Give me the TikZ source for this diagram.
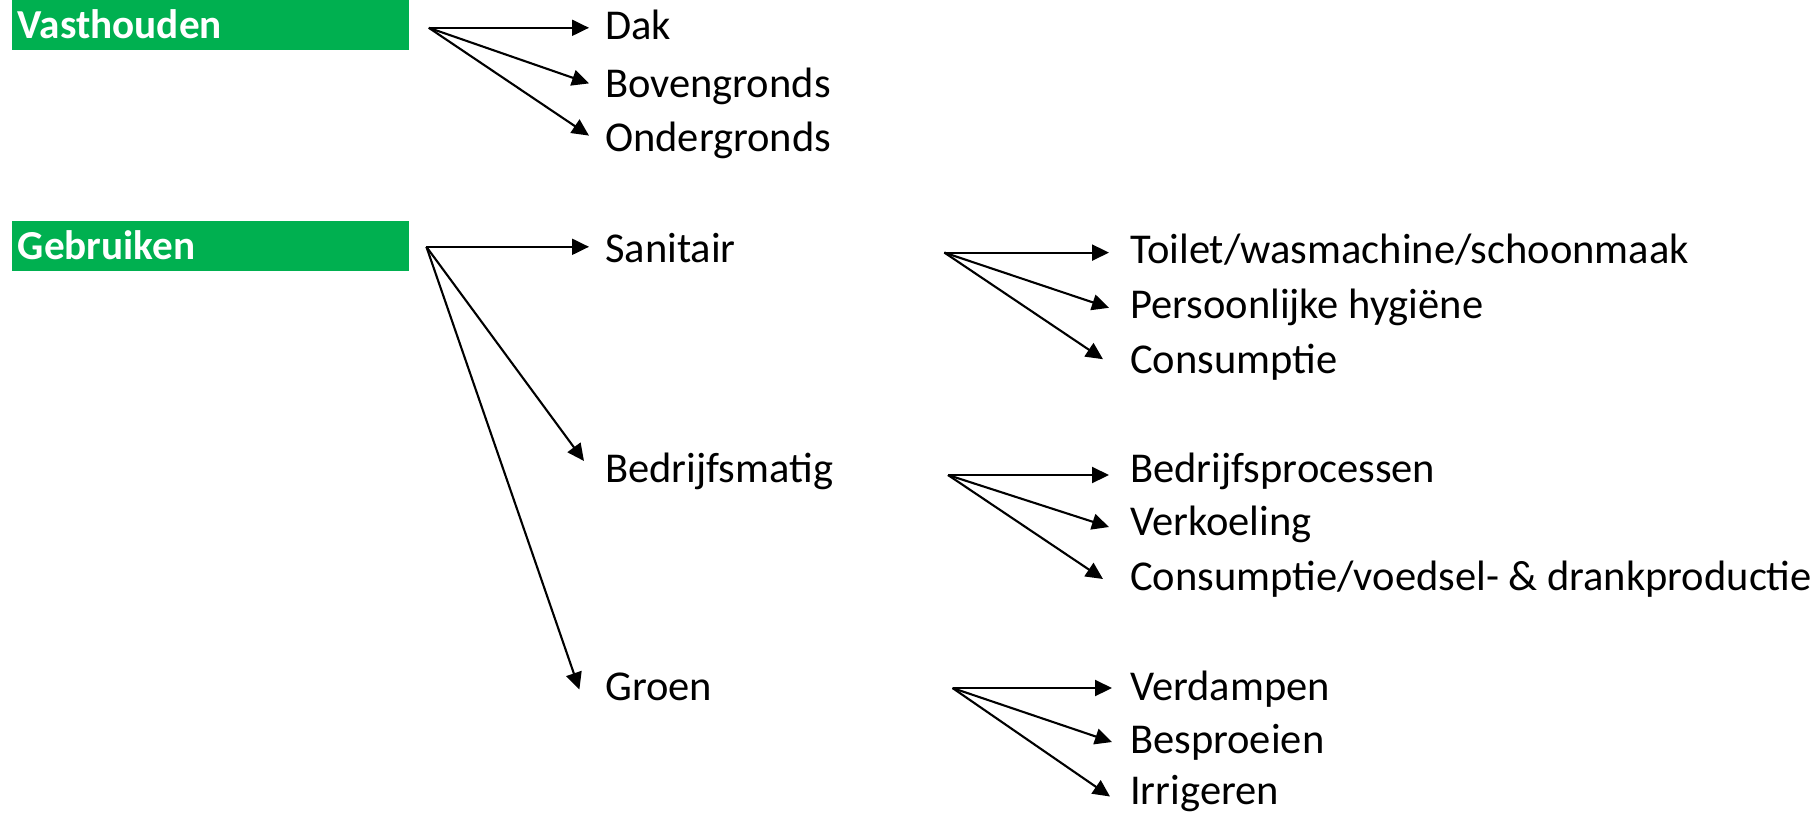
\documentclass[tikz,border=0pt]{standalone}
\usepackage{fontspec}
\setmainfont{Carlito}
\usetikzlibrary{arrows.meta}
\definecolor{xlgreen}{HTML}{00B050}
\begin{document}
\begin{tikzpicture}[x=1pt,y=-1pt,
  every node/.style={font=\fontsize{42.5}{50}\selectfont},
  gbox/.style={fill=xlgreen, anchor=north west, minimum height=50pt, text width=385pt,
    inner xsep=6pt, inner ysep=0pt, align=left, text=white,
    font=\fontsize{41.2}{49}\selectfont\bfseries, text height=31pt, text depth=5pt},
  lbl/.style={anchor=west, inner sep=0pt, text height=30pt, text depth=8pt},
  arr/.style={line width=2.1pt, -{Triangle[length=17pt,width=16pt]}}
]
\useasboundingbox (0,0) rectangle (1817,815);

% green headers
\node[gbox] (vast) at (11.6,0) {Vasthouden};
\node[gbox] (gebr) at (11.6,221) {Gebruiken};

% level 1 labels
\node[lbl] (dak) at (605,28.5) {Dak};
\node[lbl] (bov) at (605,86.4) {Bovengronds};
\node[lbl] (ond) at (605,140.9) {Ondergronds};

\node[lbl] (san) at (605,251) {Sanitair};
\node[lbl] (bed) at (605,471) {Bedrijfsmatig};
\node[lbl] (gro) at (605,689) {Groen};

% level 2 labels
\node[lbl] (toi) at (1130,252) {Toilet/wasmachine/schoonmaak};
\node[lbl] (per) at (1130,307.8) {Persoonlijke hygiëne};
\node[lbl] (con) at (1130,362.2) {Consumptie};

\node[lbl] (bpr) at (1130,471) {Bedrijfsprocessen};
\node[lbl] (ver) at (1130,524.5) {Verkoeling};
\node[lbl] (cvd) at (1130,579) {Consumptie/voedsel- \& drankproductie};

\node[lbl] (vdp) at (1130,689) {Verdampen};
\node[lbl] (bes) at (1130,742) {Besproeien};
\node[lbl] (irr) at (1130,793.5) {Irrigeren};

% fan origins
\coordinate (vo) at (428.8,27.8);
\coordinate (go) at (426.4,246.8);
\coordinate (so) at (944.4,252.6);
\coordinate (bo) at (948,475);
\coordinate (ro) at (952.5,688);

% arrows
\draw[arr] (vo) -- ([xshift=-16pt,yshift=0.7pt]dak.west);
\draw[arr] (vo) -- ([xshift=-16pt,yshift=3pt]bov.west);
\draw[arr] (vo) -- ([xshift=-16pt,yshift=5.3pt]ond.west);

\draw[arr] (go) -- ([xshift=-16pt,yshift=4.2pt]san.west);
\draw[arr] (go) -- ([xshift=-21pt,yshift=10pt]bed.west);
\draw[arr] (go) -- ([xshift=-25.6pt,yshift=-0.5pt]gro.west);

\draw[arr] (so) -- ([xshift=-21pt,yshift=-0.6pt]toi.west);
\draw[arr] (so) -- ([xshift=-21pt]per.west);
\draw[arr] (so) -- ([xshift=-27pt,yshift=3pt]con.west);

\draw[arr] (bo) -- ([xshift=-21pt,yshift=-4pt]bpr.west);
\draw[arr] (bo) -- ([xshift=-21pt,yshift=-2.5pt]ver.west);
\draw[arr] (bo) -- ([xshift=-27pt]cvd.west);

\draw[arr] (ro) -- ([xshift=-18pt,yshift=1pt]vdp.west);
\draw[arr] (ro) -- ([xshift=-18pt]bes.west);
\draw[arr] (ro) -- ([xshift=-20pt,yshift=-3pt]irr.west);
\end{tikzpicture}
\end{document}
